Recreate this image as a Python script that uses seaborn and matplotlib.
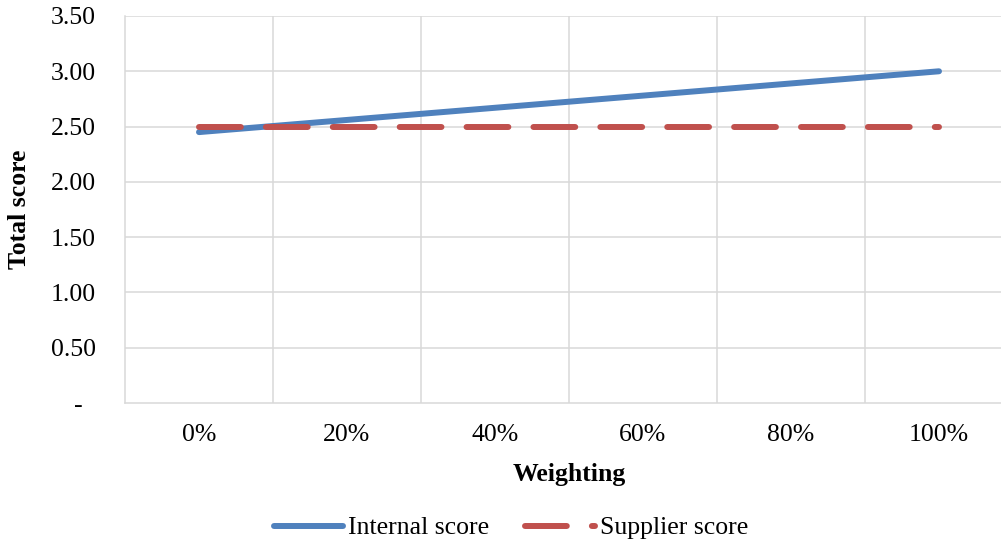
import matplotlib
matplotlib.use("Agg")
import matplotlib.pyplot as plt
import seaborn as sns
import pandas as pd

# Chart data
weighting = ["0%", "20%", "40%", "60%", "80%", "100%"]
internal_score = [2.45, 2.56, 2.67, 2.78, 2.89, 3.00]
supplier_score = [2.50, 2.50, 2.50, 2.50, 2.50, 2.50]
y_ticks = [0.0, 0.5, 1.0, 1.5, 2.0, 2.5, 3.0, 3.5]

sns.set_theme(style="white")
plt.rcParams["font.family"] = ["Liberation Serif", "DejaVu Serif"]
plt.rcParams["text.color"] = "black"
plt.rcParams["axes.labelcolor"] = "black"

df = pd.DataFrame({
    "pos": list(range(len(weighting))) * 2,
    "score": internal_score + supplier_score,
    "series": ["Internal score"] * len(weighting) + ["Supplier score"] * len(weighting),
})

fig = plt.figure(figsize=(10.01, 5.45), dpi=100)
ax = fig.add_axes([125 / 1001, 142 / 545, 888 / 1001, 387 / 545])

blue = "#4F81BD"
red = "#C0504D"
lw = 4.3

sns.lineplot(data=df[df.series == "Internal score"], x="pos", y="score", ax=ax,
             color=blue, linewidth=lw, label="Internal score",
             solid_capstyle="round")
sns.lineplot(data=df[df.series == "Supplier score"], x="pos", y="score", ax=ax,
             color=red, linewidth=lw, label="Supplier score",
             dashes=False)
red_line = ax.get_lines()[-1]
red_line.set_dashes([7.0, 4.2])
red_line.set_dash_capstyle("round")

# Supplier score drawn over the internal score line
ax.get_lines()[0].set_zorder(2)
red_line.set_zorder(3)

ax.set_xlim(-0.5, len(weighting) - 0.5)
ax.set_ylim(0, 3.5)

ax.set_xticks(range(len(weighting)))
ax.set_xticklabels(weighting)
ax.set_yticks(y_ticks)
ax.set_yticklabels(["-  " if v == 0 else f"{v:.2f}" for v in y_ticks])

# Vertical gridlines on category boundaries
for b in [i + 0.5 for i in range(len(weighting) - 1)]:
    ax.axvline(b, color="#D9D9D9", linewidth=1.1, zorder=0)
for v in y_ticks[1:]:
    ax.axhline(v, color="#D9D9D9", linewidth=1.1, zorder=0)

for side in ["top", "right"]:
    ax.spines[side].set_visible(False)
for side in ["left", "bottom"]:
    ax.spines[side].set_color("#D9D9D9")
    ax.spines[side].set_linewidth(1.1)

ax.tick_params(axis="both", length=0, labelsize=18.5, colors="black")
ax.tick_params(axis="y", pad=21)
ax.tick_params(axis="x", pad=15)

ax.set_xlabel("Weighting", fontsize=18.5, fontweight="bold", labelpad=12, color="black")
ax.set_ylabel("Total score", fontsize=18.5, fontweight="bold", color="black")
ax.yaxis.set_label_coords(-0.106, 0.5)

ax.get_legend().remove()
handles, labels = ax.get_legend_handles_labels()
leg = fig.legend(handles, labels, loc="center", bbox_to_anchor=(511 / 1001, 1 - 528 / 545),
                 ncol=2, frameon=False, fontsize=18.5, handlelength=2.7,
                 handletextpad=0.2, columnspacing=1.4)
for t in leg.get_texts():
    t.set_color("black")

fig.savefig("out.png", dpi=100)
